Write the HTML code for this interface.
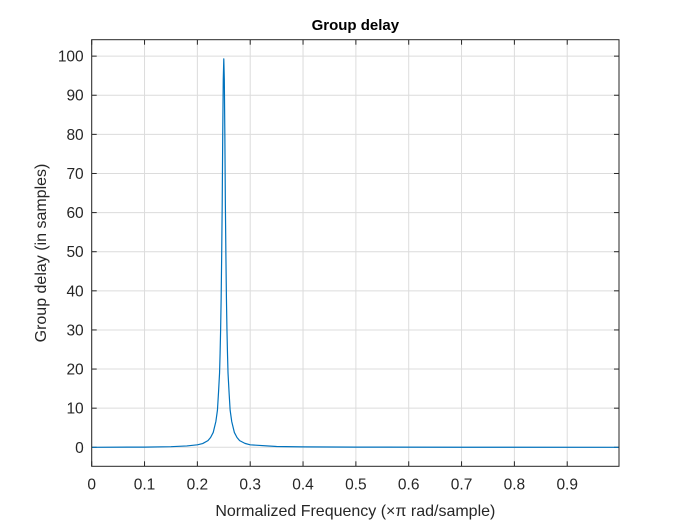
<!DOCTYPE html>
<html><head><meta charset="utf-8"><style>
html,body{margin:0;padding:0;background:#fff;}
svg{display:block;font-family:"Liberation Sans",sans-serif;}
</style></head><body>
<svg id="chart" width="700" height="525"></svg>
<script>
const freqs = [0,0.1,0.15,0.18,0.2,0.21,0.22,0.225,0.23,0.235,0.238,0.24,0.242,0.243,0.244,0.245,0.246,0.247,0.248,0.249,0.25,0.251,0.252,0.253,0.254,0.255,0.256,0.257,0.258,0.26,0.262,0.265,0.27,0.275,0.28,0.29,0.3,0.35,0.4,0.5,0.7,0.998];
const delays = [0,0.05,0.15,0.35,0.63,0.95,1.7,2.5,3.8,6.6,9.5,14,19,24,30,38,49,62,80,94,99.3,94,80,62,49,38,30,24,19,14,9.5,6.6,3.8,2.5,1.7,1.0,0.63,0.2,0.1,0.04,0.01,0];
const xTicks = [0,0.1,0.2,0.3,0.4,0.5,0.6,0.7,0.8,0.9];
const yTicks = [0,10,20,30,40,50,60,70,80,90,100];
const X0=91.7,X1=619,Y0=466.3,Y1=39.7,XMIN=0,XMAX=0.998,YMIN=-4.86,YMAX=104.2;
const sx=v=>X0+(v-XMIN)/(XMAX-XMIN)*(X1-X0);
const sy=v=>Y0-(v-YMIN)/(YMAX-YMIN)*(Y0-Y1);
const svg=document.getElementById('chart');
const NS='http://www.w3.org/2000/svg';
function mk(t,a,p){const e=document.createElementNS(NS,t);for(const k in a)e.setAttribute(k,a[k]);(p||svg).appendChild(e);return e;}
mk('rect',{x:X0,y:Y1,width:X1-X0,height:Y0-Y1,fill:'#fff'});
xTicks.forEach(t=>{
  const x=sx(t);
  const g=mk('line',{x1:x,x2:x,y1:Y1,y2:Y0,stroke:'#dcdcdc','stroke-width':1});
  
  
  mk('line',{x1:x,x2:x,y1:Y0,y2:Y0-5,stroke:'#262626'});
  mk('line',{x1:x,x2:x,y1:Y1,y2:Y1+5,stroke:'#262626'});
  const l=mk('text',{x:x,y:Y0+23,'text-anchor':'middle','font-size':15.5,fill:'#262626'});
  l.textContent=t;
  
  
});
yTicks.forEach(t=>{
  const y=sy(t);
  const g=mk('line',{x1:X0,x2:X1,y1:y,y2:y,stroke:'#dcdcdc','stroke-width':1});
  
  
  mk('line',{x1:X0,x2:X0+5,y1:y,y2:y,stroke:'#262626'});
  mk('line',{x1:X1,x2:X1-5,y1:y,y2:y,stroke:'#262626'});
  const l=mk('text',{x:X0-8,y:y+5.5,'text-anchor':'end','font-size':15.5,fill:'#262626'});
  l.textContent=t;
  
  
});
const p=mk('polyline',{points:freqs.map((f,i)=>sx(f)+','+sy(delays[i])).join(' '),fill:'none',stroke:'#0072bd','stroke-width':1.2,'stroke-linejoin':'round'});


const b=mk('rect',{x:X0,y:Y1,width:X1-X0,height:Y0-Y1,fill:'none',stroke:'#262626','stroke-width':1});


const ti=mk('text',{x:(X0+X1)/2,y:30,'text-anchor':'middle','font-size':15,'font-weight':'bold',fill:'#000'});
ti.textContent='Group delay';


const xl=mk('text',{x:(X0+X1)/2,y:516,'text-anchor':'middle','font-size':16,fill:'#262626'});
xl.textContent='Normalized Frequency (×π rad/sample)';


const yl=mk('text',{x:0,y:0,'text-anchor':'middle','font-size':16,fill:'#262626',transform:'translate(46,'+((Y0+Y1)/2)+') rotate(-90)'});
yl.textContent='Group delay (in samples)';


</script>
</body></html>
